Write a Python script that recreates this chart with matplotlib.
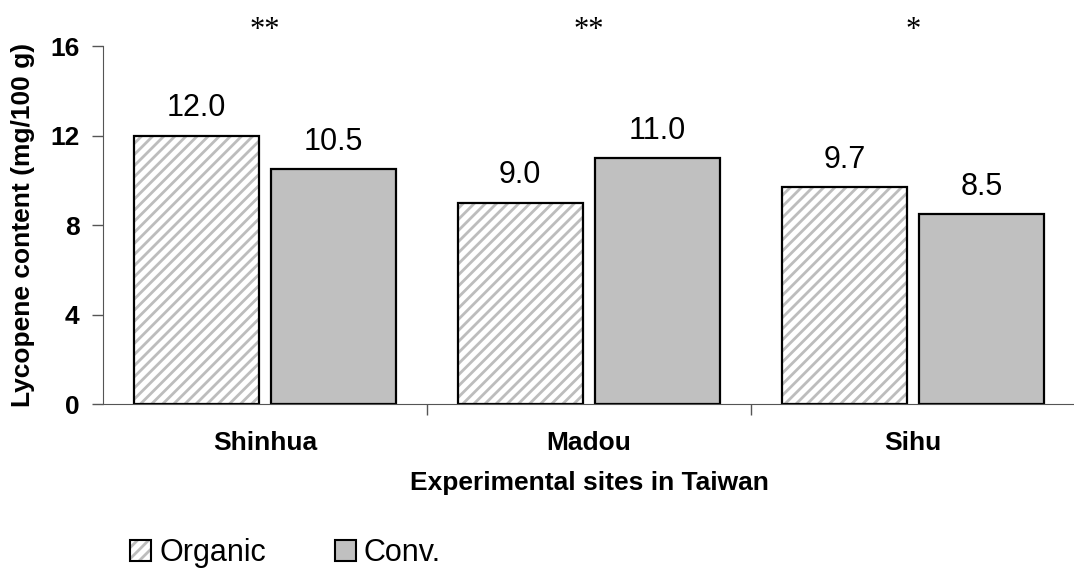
import numpy as np
import matplotlib.pyplot as plt
from matplotlib.patches import Patch

plt.rcParams['font.family'] = ['Liberation Sans', 'DejaVu Sans']
plt.rcParams['hatch.linewidth'] = 2.0

sites = ['Shinhua', 'Madou', 'Sihu']
organic = [12.0, 9.0, 9.7]
conv = [10.5, 11.0, 8.5]
signif = ['**', '**', '*']

fig = plt.figure(figsize=(10.74, 5.68), dpi=100)
ax = fig.add_axes([0.0959, 0.2887, 0.905, 0.6303])

x = np.arange(len(sites))
w = 0.387
off = 0.212
hcol = '#bdbdbd'

# hatched organic bars: hatch drawn in gray, outline drawn on top in black
ax.bar(x - off, organic, w, color='white', hatch='///', edgecolor=hcol, linewidth=0)
b1 = ax.bar(x - off, organic, w, color='none', edgecolor='black', linewidth=1.6)
b2 = ax.bar(x + off, conv, w, color='#c0c0c0', edgecolor='black', linewidth=1.6)

for bars, vals in [(b1, organic), (b2, conv)]:
    for b, v in zip(bars, vals):
        ax.text(b.get_x() + b.get_width() / 2, v + 0.55, f'{v:.1f}',
                ha='center', va='bottom', fontsize=22)

for i, s in enumerate(signif):
    ax.text(i, 16.04, s, ha='center', va='bottom', fontsize=22,
            family='Liberation Serif')

ax.set_xlim(-0.5, 2.5)
ax.set_ylim(0, 16)
ax.set_yticks([0, 4, 8, 12, 16])
ax.set_xticks([0.5, 1.5])
ax.set_xticklabels([])
ax.tick_params(axis='x', length=8, color='#555555', width=1)
ax.tick_params(axis='y', length=8, color='#555555', width=1, labelsize=19, pad=9)
for lab in ax.get_yticklabels():
    lab.set_fontweight('bold')
for i, s in enumerate(sites):
    ax.text(i, -1.74, s, ha='center', va='center', fontsize=19, fontweight='bold')

ax.spines['top'].set_visible(False)
ax.spines['right'].set_visible(False)
ax.spines['left'].set_color('#555555')
ax.spines['bottom'].set_color('#555555')
ax.spines['left'].set_bounds(0, 16)

fig.text(23 / 1074, 1 - 225 / 568, 'Lycopene content (mg/100 g)', rotation=90,
         ha='center', va='center', fontsize=19, fontweight='bold')
fig.text(0.549, 1 - 483 / 568, 'Experimental sites in Taiwan', ha='center', va='center',
         fontsize=19, fontweight='bold')

org_h = (Patch(facecolor='white', hatch='///', edgecolor=hcol, linewidth=0),
         Patch(facecolor='none', edgecolor='black', linewidth=1.5))
conv_h = Patch(facecolor='#c0c0c0', edgecolor='black', linewidth=1.5)
fig.legend(handles=[org_h, conv_h], labels=['Organic', 'Conv.'], loc='lower left',
           bbox_to_anchor=(130 / 1074, 0.0), ncol=2, frameon=False, fontsize=22,
           handlelength=0.7, handleheight=0.7, handletextpad=0.25, columnspacing=2.26,
           borderpad=0, borderaxespad=0)

fig.savefig('out.png', dpi=100)
